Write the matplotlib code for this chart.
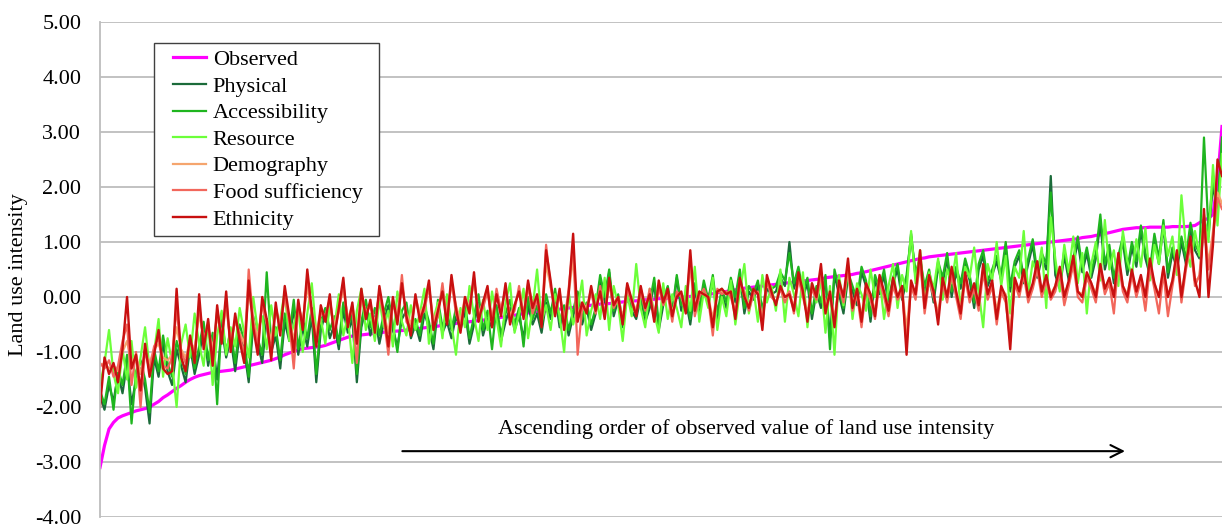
import matplotlib
matplotlib.use("Agg")
import matplotlib.pyplot as plt
from matplotlib.patches import Rectangle
import numpy as np

series_names = ["Observed", "Physical", "Accessibility", "Resource",
                "Demography", "Food sufficiency", "Ethnicity"]

observed = [
    -3.10, -2.70, -2.40, -2.28, -2.20, -2.16, -2.13, -2.10, -2.07, -2.05,
    -2.03, -2.00, -1.95, -1.90, -1.83, -1.78, -1.72, -1.66, -1.61, -1.55,
    -1.50, -1.46, -1.43, -1.41, -1.39, -1.37, -1.36, -1.35, -1.34, -1.33,
    -1.31, -1.29, -1.27, -1.25, -1.23, -1.21, -1.19, -1.17, -1.15, -1.12,
    -1.09, -1.05, -1.02, -0.99, -0.96, -0.94, -0.93, -0.92, -0.91, -0.90,
    -0.88, -0.85, -0.82, -0.79, -0.76, -0.73, -0.71, -0.70, -0.69, -0.68,
    -0.67, -0.66, -0.65, -0.64, -0.63, -0.62, -0.62, -0.61, -0.60, -0.59,
    -0.58, -0.57, -0.56, -0.55, -0.54, -0.53, -0.51, -0.50, -0.49, -0.48,
    -0.47, -0.46, -0.45, -0.44, -0.43, -0.42, -0.41, -0.40, -0.39, -0.37,
    -0.36, -0.35, -0.33, -0.32, -0.30, -0.29, -0.28, -0.27, -0.26, -0.25,
    -0.24, -0.23, -0.22, -0.21, -0.20, -0.19, -0.18, -0.17, -0.16, -0.15,
    -0.14, -0.13, -0.12, -0.12, -0.11, -0.10, -0.09, -0.08, -0.07, -0.07,
    -0.06, -0.05, -0.05, -0.04, -0.03, -0.03, -0.02, -0.02, -0.01, 0.00,
    0.00, 0.01, 0.02, 0.03, 0.04, 0.05, 0.06, 0.08, 0.09, 0.10,
    0.12, 0.13, 0.15, 0.16, 0.17, 0.18, 0.19, 0.20, 0.21, 0.22,
    0.23, 0.24, 0.25, 0.26, 0.27, 0.28, 0.29, 0.30, 0.31, 0.32,
    0.33, 0.35, 0.36, 0.37, 0.38, 0.39, 0.40, 0.41, 0.43, 0.44,
    0.46, 0.48, 0.50, 0.52, 0.54, 0.56, 0.58, 0.60, 0.62, 0.64,
    0.66, 0.68, 0.70, 0.71, 0.73, 0.74, 0.75, 0.76, 0.77, 0.78,
    0.79, 0.80, 0.81, 0.82, 0.83, 0.84, 0.85, 0.86, 0.87, 0.88,
    0.89, 0.90, 0.91, 0.92, 0.93, 0.94, 0.95, 0.96, 0.97, 0.98,
    0.99, 1.00, 1.01, 1.02, 1.03, 1.04, 1.05, 1.06, 1.08, 1.09,
    1.10, 1.12, 1.13, 1.15, 1.17, 1.19, 1.21, 1.23, 1.24, 1.25,
    1.26, 1.26, 1.26, 1.27, 1.27, 1.27, 1.27, 1.27, 1.28, 1.28,
    1.28, 1.28, 1.29, 1.30, 1.35, 1.40, 1.43, 1.50, 2.10, 3.10,
]

physical = [
    -1.80, -2.05, -1.60, -1.90, -1.40, -1.75, -1.20, -1.95, -1.50, -1.30,
    -1.65, -2.30, -1.10, -1.45, -0.85, -1.35, -1.60, -0.95, -1.25, -1.55,
    -0.90, -1.40, -1.05, -0.60, -1.25, -0.80, -1.50, -0.55, -1.10, -0.75,
    -1.35, -0.65, -0.95, -1.55, -0.50, -0.85, -1.20, -0.40, -1.00, -0.70,
    -1.30, -0.45, -0.80, -0.20, -1.05, -0.55, -0.90, -0.35, -1.55, -0.60,
    -0.30, -0.75, -0.50, -0.95, -0.25, -0.65, -0.40, -1.55, -0.55, -0.20,
    -0.70, -0.35, -0.85, -0.45, -0.15, -0.60, -0.90, -0.40, -0.25, -0.75,
    -0.50, -0.80, -0.30, -0.55, -0.95, -0.20, -0.65, -0.45, -0.75, -0.35,
    -0.60, -0.25, -0.85, -0.50, -0.10, -0.70, -0.40, -0.55, -0.30, -0.80,
    -0.45, -0.20, -0.60, -0.35, -0.75, -0.15, -0.50, -0.30, -0.65, -0.10,
    -0.40, 0.05, -0.55, -0.25, -0.70, -0.35, 0.00, -0.50, -0.20, -0.60,
    -0.30, 0.30, -0.10, 0.45, -0.35, -0.05, -0.55, 0.10, -0.25, -0.40,
    0.00, -0.45, -0.20, 0.25, -0.60, -0.15, 0.10, -0.35, 0.35, -0.25,
    -0.05, -0.50, 0.15, -0.30, 0.20, -0.15, 0.30, -0.40, 0.05, -0.20,
    0.25, -0.10, 0.40, -0.30, 0.10, -0.05, 0.20, -0.35, 0.15, 0.05,
    0.10, 0.35, 0.20, 1.00, 0.15, 0.45, 0.00, 0.25, -0.40, 0.10,
    -0.20, 0.30, -0.75, 0.40, 0.05, -0.30, 0.35, 0.10, -0.15, 0.45,
    0.20, -0.45, 0.30, 0.05, 0.40, -0.15, 0.25, 0.50, -0.05, 0.30,
    1.15, 0.35, 0.60, 0.10, 0.40, -0.10, 0.55, 0.25, 0.70, 0.00,
    0.45, 0.15, 0.60, 0.30, -0.20, 0.50, 0.75, 0.20, 0.40, 0.65,
    0.30, 0.90, 0.10, 0.55, 0.75, 0.25, 0.60, 0.95, 0.35, 0.70,
    0.50, 2.20, 0.40, 0.15, 0.75, 0.30, 0.60, 1.00, 0.45, 0.80,
    0.35, 0.70, 1.35, 0.50, 0.85, 0.25, 0.65, 1.00, 0.40, 0.90,
    0.55, 1.20, 0.70, 0.40, 1.05, 0.60, 1.30, 0.35, 0.80, 0.50,
    1.00, 0.60, 1.25, 0.85, 0.70, 1.40, 1.10, 2.05, 1.50, 2.80,
]

accessibility = [
    -1.70, -1.95, -1.45, -2.05, -1.30, -1.60, -1.05, -2.30, -1.35, -1.15,
    -1.50, -2.10, -0.95, -1.35, -0.70, -1.20, -1.45, -0.80, -1.10, -1.40,
    -0.75, -1.30, -0.90, -0.45, -1.15, -0.65, -1.95, -0.40, -1.00, -0.60,
    -1.20, -0.50, -0.80, -1.45, -0.35, -0.75, -1.05, 0.45, -0.85, -0.55,
    -1.15, -0.30, -0.70, -0.05, -0.95, -0.40, -0.75, -0.20, -1.40, -0.45,
    -0.20, -0.60, -0.35, -0.85, -0.10, -0.55, -0.30, -1.40, -0.45, -0.05,
    -0.55, -0.20, -0.70, -0.30, 0.00, -0.50, -1.00, -0.25, -0.10, -0.65,
    -0.40, -0.70, -0.15, -0.45, -0.85, -0.05, -0.55, -0.30, -0.60, -0.20,
    -0.45, -0.10, -0.75, -0.35, 0.05, -0.60, -0.25, -0.95, -0.15, -0.70,
    -0.30, -0.05, -0.50, -0.20, -0.90, 0.00, -0.40, -0.15, -0.55, 0.05,
    -0.30, 0.15, -0.45, -0.15, -0.60, -0.25, 0.10, -0.40, -0.10, -0.50,
    -0.20, 0.40, 0.00, 0.50, -0.25, 0.05, -0.45, 0.20, -0.15, -0.30,
    0.10, -0.35, -0.10, 0.35, -0.50, -0.05, 0.20, -0.25, 0.40, -0.15,
    0.05, -0.40, 0.25, -0.20, 0.30, -0.05, 0.40, -0.30, 0.15, -0.10,
    0.35, 0.00, 0.50, -0.20, 0.20, 0.05, 0.30, -0.25, 0.25, 0.15,
    0.20, 0.45, 0.30, 0.80, 0.25, 0.55, 0.10, 0.35, -0.30, 0.20,
    -0.10, 0.40, -0.95, 0.50, 0.15, -0.20, 0.45, 0.20, -0.05, 0.55,
    0.30, -0.35, 0.40, 0.15, 0.50, -0.05, 0.35, 0.60, 0.05, 0.40,
    1.10, 0.45, 0.70, 0.20, 0.50, 0.00, 0.65, 0.35, 0.80, 0.10,
    0.55, 0.25, 0.70, 0.40, -0.10, 0.60, 0.85, 0.30, 0.50, 0.75,
    0.40, 1.00, 0.20, 0.65, 0.85, 0.35, 0.70, 1.05, 0.45, 0.80,
    0.60, 1.90, 0.50, 0.25, 0.85, 0.40, 0.70, 1.10, 0.55, 0.90,
    0.45, 0.80, 1.50, 0.60, 0.95, 0.35, 0.75, 1.10, 0.50, 1.00,
    0.65, 1.30, 0.80, 0.50, 1.15, 0.70, 1.40, 0.45, 0.90, 0.60,
    1.10, 0.70, 1.35, 0.95, 0.80, 2.90, 1.20, 2.20, 1.60, 2.90,
]

resource = [
    -1.60, -1.20, -0.60, -1.40, -1.75, -0.95, -1.50, -0.80, -1.65, -1.10,
    -0.55, -1.30, -1.00, -0.40, -1.45, -0.75, -1.20, -2.00, -0.85, -0.50,
    -1.10, -0.30, -0.85, -1.25, -0.45, -1.60, -0.70, -0.25, -1.05, -0.55,
    -0.90, -0.20, -0.65, -1.10, 0.00, -0.60, -0.35, -0.95, -0.15, -0.70,
    -0.40, 0.10, -0.80, -0.50, -0.20, -1.00, -0.30, 0.25, -0.65, -0.40,
    -0.85, -0.15, -0.55, 0.05, -0.70, -0.35, -1.20, -0.25, 0.15, -0.60,
    -0.30, -0.80, -0.05, -0.55, -0.25, -0.90, 0.10, -0.45, -0.70, -0.15,
    -0.60, -0.30, 0.15, -0.85, -0.40, -0.10, -0.75, 0.05, -0.50, -1.05,
    -0.20, -0.55, 0.20, -0.35, -0.80, -0.05, -0.60, 0.10, -0.40, -0.90,
    -0.10, 0.25, -0.65, -0.30, 0.15, -0.75, -0.20, 0.50, -0.45, -0.15,
    -0.60, 0.05, -0.35, -1.00, 0.10, -0.50, -0.20, 0.30, -0.70, -0.25,
    0.05, -0.40, 0.35, -0.60, 0.20, -0.15, -0.80, 0.05, -0.35, 0.60,
    -0.20, -0.55, 0.15, -0.30, -0.65, 0.25, -0.40, 0.05, -0.20, -0.55,
    0.20, -0.25, 0.55, -0.45, 0.10, -0.20, 0.35, -0.60, 0.00, -0.35,
    0.30, -0.50, 0.10, 0.60, -0.30, 0.15, -0.45, 0.40, -0.10, 0.20,
    -0.25, 0.50, -0.45, 0.35, 0.05, -0.35, 0.45, -0.55, 0.25, -0.10,
    0.30, -0.65, 0.20, -1.05, 0.40, -0.15, 0.55, -0.40, 0.25, 0.05,
    -0.25, 0.50, 0.00, 0.35, -0.40, 0.20, 0.60, -0.20, 0.40, 0.10,
    1.20, 0.25, 0.85, -0.10, 0.45, 0.15, 0.70, -0.05, 0.50, 0.25,
    0.80, -0.25, 0.55, 0.35, 0.90, 0.10, -0.55, 0.60, 0.30, 1.00,
    0.20, 0.75, -0.30, 0.55, 0.35, 1.20, 0.05, 0.65, 0.40, 0.90,
    -0.20, 1.45, 0.70, 0.10, 0.95, 0.45, 1.10, 0.25, 0.80, -0.30,
    0.60, 1.00, 0.30, 1.40, 0.50, 0.85, 0.20, 1.20, 0.65, 0.40,
    1.05, 0.55, 1.25, 0.30, 0.95, 0.60, 1.30, 0.75, 1.10, 0.40,
    1.85, 0.90, 0.55, 1.20, 0.75, 1.50, 1.00, 2.40, 1.30, 2.60,
]

demography = [
    -1.25, -1.20, -1.30, -1.25, -1.35, -1.00, -0.80, -1.20, -1.05, -1.40,
    -1.00, -1.20, -0.95, -0.85, -1.10, -1.15, -1.05, -0.55, -0.95, -1.10,
    -0.80, -0.95, -0.30, -0.75, -0.55, -0.95, -0.35, -0.70, -0.20, -0.80,
    -0.45, -0.65, -0.85, 0.10, -0.40, -0.75, -0.15, -0.45, -0.80, -0.20,
    -0.50, 0.00, -0.40, -0.80, -0.15, -0.45, 0.20, -0.30, -0.65, -0.25,
    -0.35, -0.05, -0.55, -0.20, 0.15, -0.40, -0.15, -0.75, 0.05, -0.30,
    -0.10, -0.50, 0.10, -0.30, -0.65, -0.05, -0.35, 0.20, -0.30, -0.50,
    0.00, -0.30, -0.15, 0.20, -0.45, -0.20, 0.10, -0.35, 0.25, -0.15,
    -0.45, 0.00, -0.20, 0.30, -0.30, -0.10, 0.15, -0.40, 0.05, -0.25,
    0.15, -0.35, -0.15, 0.10, -0.30, 0.25, -0.15, 0.00, -0.40, 0.60,
    0.20, -0.25, 0.10, -0.45, 0.05, 0.70, -0.35, -0.10, -0.20, 0.15,
    -0.20, 0.10, -0.30, 0.25, -0.10, 0.00, -0.40, 0.20, -0.05, -0.25,
    0.15, -0.15, 0.05, -0.35, 0.20, -0.10, 0.10, -0.30, 0.05, 0.05,
    -0.20, 0.55, -0.20, 0.10, 0.05, 0.00, -0.40, 0.10, 0.10, 0.05,
    0.10, -0.30, 0.30, 0.00, -0.15, 0.10, 0.05, -0.40, 0.30, 0.05,
    -0.10, 0.15, 0.00, 0.10, -0.20, 0.35, 0.05, -0.30, 0.20, 0.00,
    0.40, -0.20, 0.10, -0.40, 0.25, 0.00, 0.50, -0.15, 0.10, -0.35,
    0.20, 0.05, -0.25, 0.30, 0.05, -0.20, 0.25, 0.00, 0.15, -0.60,
    0.25, 0.05, 0.60, -0.10, 0.30, 0.05, -0.30, 0.30, 0.00, 0.45,
    0.10, -0.20, 0.40, 0.00, 0.20, -0.10, 0.50, 0.05, 0.25, -0.25,
    0.15, 0.05, -0.60, 0.30, 0.10, 0.45, 0.00, 0.20, 0.55, 0.10,
    0.35, 0.05, 0.20, 0.50, 0.05, 0.25, 0.65, 0.10, 0.05, 0.40,
    0.25, 0.05, 0.55, 0.15, 0.30, 0.00, 0.70, 0.20, 0.05, 0.45,
    0.10, 0.35, 0.00, 0.60, 0.25, 0.00, 0.50, 0.00, 0.30, 0.75,
    0.05, 0.55, 1.00, 0.30, 0.35, 1.40, 0.60, 1.20, 1.90, 1.70,
]

food_sufficiency = [
    -1.20, -1.30, -1.15, -1.45, -1.25, -0.80, -0.50, -1.60, -1.00, -2.00,
    -0.95, -1.35, -0.90, -0.75, -1.25, -1.30, -1.10, -0.20, -1.00, -1.20,
    -0.80, -1.05, -0.15, -0.80, -0.50, -1.10, -0.25, -0.75, -0.05, -0.90,
    -0.40, -0.70, -1.05, 0.50, -0.45, -0.90, -0.10, -0.50, -1.00, -0.20,
    -0.60, 0.05, -0.45, -1.30, -0.15, -0.50, 0.35, -0.35, -0.80, -0.30,
    -0.35, -0.05, -0.65, -0.25, 0.25, -0.45, -0.20, -1.20, 0.05, -0.30,
    -0.15, -0.55, 0.10, -0.40, -1.05, -0.10, -0.40, 0.40, -0.45, -0.60,
    -0.05, -0.35, -0.25, 0.20, -0.55, -0.35, 0.25, -0.45, 0.30, -0.30,
    -0.55, -0.10, -0.20, 0.35, -0.35, -0.20, 0.10, -0.45, 0.15, -0.25,
    0.15, -0.40, -0.25, 0.20, -0.35, 0.20, -0.30, -0.05, -0.45, 0.95,
    0.20, -0.30, 0.05, -0.50, 0.15, 0.95, -1.05, -0.20, -0.25, 0.10,
    -0.30, 0.20, -0.35, 0.25, -0.20, -0.05, -0.45, 0.15, -0.10, -0.30,
    0.10, -0.25, 0.15, -0.40, 0.20, -0.15, 0.05, -0.45, 0.10, 0.00,
    -0.25, 0.70, -0.35, 0.00, 0.15, -0.05, -0.70, 0.15, 0.05, 0.10,
    0.00, -0.30, 0.25, 0.10, -0.25, 0.05, 0.10, -0.50, 0.30, 0.00,
    -0.10, 0.15, -0.10, 0.10, -0.30, 0.35, 0.00, -0.35, 0.15, -0.05,
    0.45, -0.25, 0.05, -0.45, 0.20, -0.10, 0.55, -0.25, 0.05, -0.55,
    0.15, -0.05, -0.40, 0.30, 0.00, -0.35, 0.20, -0.05, 0.10, -0.85,
    0.20, -0.05, 0.70, -0.30, 0.30, 0.00, -0.35, 0.25, -0.10, 0.40,
    0.00, -0.40, 0.35, -0.10, 0.15, -0.25, 0.45, -0.05, 0.20, -0.50,
    0.10, -0.10, -0.80, 0.25, 0.00, 0.40, -0.10, 0.15, 0.50, 0.00,
    0.30, -0.05, 0.10, 0.45, -0.15, 0.20, 0.60, 0.00, -0.10, 0.35,
    0.15, -0.10, 0.50, 0.05, 0.25, -0.30, 0.65, 0.10, -0.10, 0.40,
    0.00, 0.30, -0.25, 0.55, 0.15, -0.30, 0.45, -0.35, 0.20, 0.70,
    -0.10, 0.50, 0.95, 0.20, 0.40, 1.30, 0.50, 1.10, 1.80, 1.60,
]

ethnicity = [
    -2.00, -1.10, -1.40, -1.20, -1.55, -0.95, 0.00, -1.30, -1.05, -1.70,
    -0.85, -1.45, -1.05, -0.60, -1.30, -1.40, -1.35, 0.15, -1.10, -1.35,
    -0.70, -1.20, 0.05, -0.95, -0.40, -1.25, -0.15, -0.85, 0.10, -1.00,
    -0.30, -0.80, -1.20, 0.30, -0.55, -1.05, 0.00, -0.40, -1.15, -0.10,
    -0.70, 0.20, -0.35, -1.00, -0.05, -0.60, 0.50, -0.25, -0.90, -0.15,
    -0.45, 0.05, -0.75, -0.20, 0.35, -0.55, -0.10, -0.85, 0.15, -0.40,
    -0.05, -0.65, 0.20, -0.30, -0.90, 0.00, -0.50, 0.25, -0.35, -0.70,
    0.05, -0.45, -0.15, 0.30, -0.60, -0.25, 0.10, -0.50, 0.40, -0.20,
    -0.65, 0.00, -0.30, 0.45, -0.45, -0.10, 0.20, -0.55, 0.05, -0.35,
    0.25, -0.50, -0.15, 0.10, -0.40, 0.30, -0.20, 0.05, -0.55, 0.85,
    0.30, -0.35, 0.15, -0.60, 0.05, 1.15, -0.45, -0.10, -0.30, 0.20,
    -0.25, 0.10, -0.40, 0.35, -0.15, 0.00, -0.50, 0.25, -0.05, -0.35,
    0.20, -0.20, 0.05, -0.45, 0.30, -0.10, 0.15, -0.35, 0.00, 0.10,
    -0.30, 0.85, -0.25, 0.10, 0.05, 0.00, -0.55, 0.10, 0.15, 0.05,
    0.10, -0.40, 0.35, 0.00, -0.20, 0.15, 0.05, -0.60, 0.40, 0.10,
    -0.15, 0.20, 0.00, 0.05, -0.25, 0.45, 0.10, -0.45, 0.25, 0.00,
    0.60, -0.30, 0.10, -0.55, 0.30, 0.00, 0.70, -0.20, 0.15, -0.45,
    0.25, 0.05, -0.35, 0.40, 0.10, -0.25, 0.35, 0.00, 0.20, -1.05,
    0.30, 0.05, 0.85, -0.20, 0.40, 0.10, -0.50, 0.35, 0.00, 0.55,
    0.10, -0.30, 0.45, 0.00, 0.25, -0.15, 0.60, 0.05, 0.30, -0.40,
    0.20, 0.00, -0.95, 0.35, 0.10, 0.50, 0.00, 0.25, 0.65, 0.10,
    0.40, 0.00, 0.20, 0.55, 0.00, 0.30, 0.75, 0.10, 0.00, 0.45,
    0.25, 0.00, 0.60, 0.15, 0.35, 0.00, 0.80, 0.20, 0.00, 0.50,
    0.10, 0.40, 0.00, 0.70, 0.25, 0.00, 0.55, 0.00, 0.30, 0.85,
    0.00, 0.60, 1.10, 0.30, 0.00, 1.60, 0.00, 0.95, 2.50, 2.20,
]

y_ticks = [5.0, 4.0, 3.0, 2.0, 1.0, 0.0, -1.0, -2.0, -3.0, -4.0]
y_label = "Land use intensity"
note_text = "Ascending order of observed value of land use intensity"

colors = ["#FF00FF", "#1B6B3A", "#1FB51F", "#6CFF3A",
          "#F5A56E", "#F2675C", "#C81010"]
widths = [2.3, 1.6, 1.6, 1.6, 1.6, 1.6, 1.7]

plt.rcParams["font.family"] = ["Liberation Serif", "DejaVu Serif"]

W, H = 1222, 529
fig = plt.figure(figsize=(W / 100, H / 100), dpi=100)
ax = fig.add_axes([100 / W, 1 - 517 / H, 1 - 100 / W, (517 - 22) / H])

all_series = [observed, physical, accessibility, resource,
              demography, food_sufficiency, ethnicity]
x = np.arange(len(observed))
for name, vals, c, w in zip(series_names, all_series, colors, widths):
    ax.plot(x, vals, color=c, lw=w, label=name, solid_joinstyle="round")

ax.set_xlim(0, len(observed) - 1)
ax.set_ylim(-4, 5)
ax.set_yticks(y_ticks)
ax.set_yticklabels([f"{v:.2f}" for v in y_ticks], fontsize=16)
ax.set_xticks([])
ax.yaxis.grid(True, color="#BDBDBD", lw=1.3)
ax.set_axisbelow(True)
ax.tick_params(axis="y", length=0, pad=13.5)
for s in ["top", "right", "bottom"]:
    ax.spines[s].set_visible(False)
ax.spines["left"].set_color("#BDBDBD")
ax.spines["left"].set_linewidth(1.3)
fig.text(19 / W, 1 - 275 / H, y_label, rotation=90, ha="center", va="center",
         fontsize=16)

leg = ax.legend(loc="upper left", bbox_to_anchor=(66 / 1122, 1 - 21 / 495),
                fontsize=16, frameon=False, handlelength=1.5,
                handletextpad=0.3, labelspacing=0.27, borderpad=0.3,
                borderaxespad=0)
leg.set_zorder(6)

fig.canvas.draw()
bb = leg.get_window_extent()
inv = ax.transAxes.inverted()
(ax0, ay0) = inv.transform((bb.x0 - 12, bb.y0))
(ax1, ay1) = inv.transform((bb.x1 + 10, bb.y1))
frame = Rectangle((ax0, ay0), ax1 - ax0, ay1 - ay0, transform=ax.transAxes,
                  facecolor="white", edgecolor="#404040", lw=1.0, zorder=5)
ax.add_artist(frame)

ax.text(0.576, 0.178, note_text, transform=ax.transAxes, ha="center",
        va="center", fontsize=16)
ax.annotate("", xy=(0.916, 0.133), xytext=(0.267, 0.133),
            xycoords="axes fraction", textcoords="axes fraction",
            arrowprops=dict(arrowstyle="->", color="black", lw=1.5,
                            mutation_scale=22))

fig.savefig("out.png", dpi=100)
